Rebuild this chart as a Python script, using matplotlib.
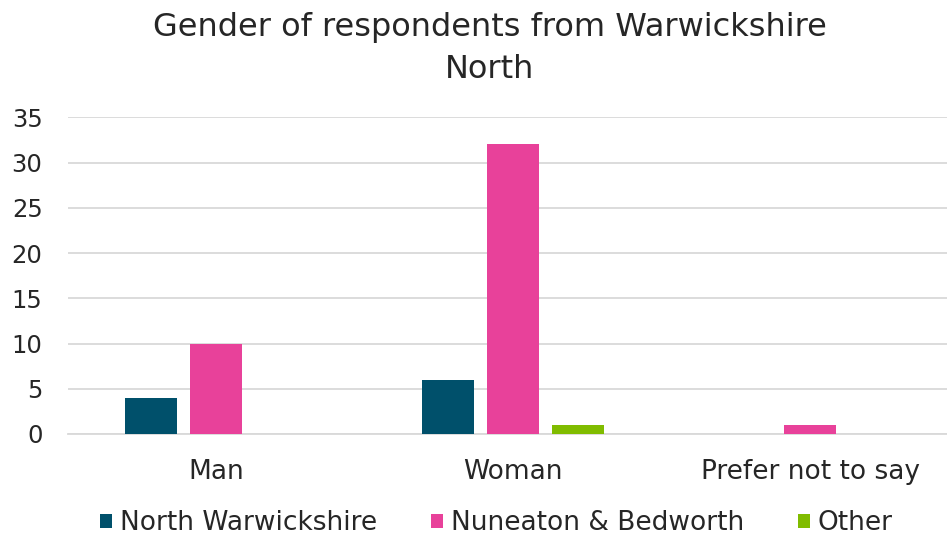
import matplotlib
matplotlib.use('Agg')
import matplotlib.pyplot as plt
import numpy as np

plt.rcParams['font.family'] = ['DejaVu Sans']

categories = ["Man", "Woman", "Prefer not to say"]
series_names = ["North Warwickshire", "Nuneaton & Bedworth", "Other"]
north_warks = [4, 6, 0]
nuneaton = [10, 32, 1]
other = [0, 1, 0]
colors = ["#00506B", "#E8419A", "#80BC00"]
text_color = "#262626"

fig = plt.figure(figsize=(9.47, 5.4), dpi=100)
# plot area runs slightly past the right edge, as in the reference
ax = fig.add_axes([0.0713, 0.1963, 0.9409, 0.5865])

x = np.arange(len(categories))
width = 0.175
offset = 0.22
for i, (vals, name) in enumerate(zip([north_warks, nuneaton, other], series_names)):
    ax.bar(x + (i - 1) * offset, vals, width, color=colors[i], label=name, zorder=3)

ax.set_xlim(-0.5, 2.5)
ax.set_ylim(0, 35)
ax.set_yticks(range(0, 36, 5))
ax.set_xticks(x)
ax.set_xticklabels(categories)
ax.tick_params(axis='both', length=0, labelsize=17.5, colors=text_color)
ax.tick_params(axis='x', pad=18, labelsize=19)
ax.tick_params(axis='y', pad=18)
ax.grid(axis='y', color='#D9D9D9', linewidth=1.3, zorder=0)
for side in ['top', 'right', 'left']:
    ax.spines[side].set_visible(False)
ax.spines['bottom'].set_color('#D9D9D9')
ax.spines['bottom'].set_linewidth(1.3)

fig.text(0.517, 0.978, "Gender of respondents from Warwickshire\nNorth",
         ha='center', va='top', fontsize=23, color=text_color, linespacing=1.45)

fig.legend(loc='center', bbox_to_anchor=(0.524, 0.031), ncol=3, frameon=False,
           fontsize=19, handlelength=0.45, handleheight=0.45, handletextpad=0.3,
           columnspacing=2.05, labelcolor=text_color, borderpad=0)

fig.savefig("out.png", dpi=100)
